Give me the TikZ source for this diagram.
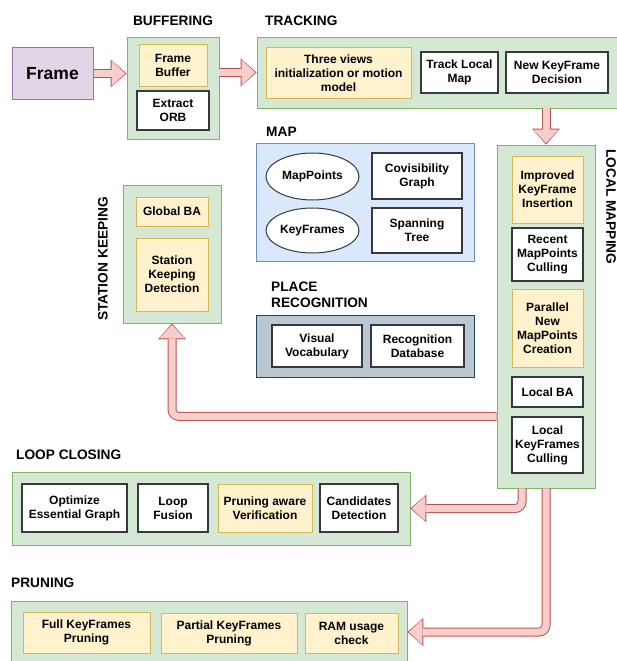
\documentclass[tikz,border=0pt]{standalone}
\usepackage{fontspec}
\setmainfont{Liberation Sans}
\usetikzlibrary{shapes.geometric,arrows.meta}
\definecolor{groupfill}{HTML}{D5E8D4}
\definecolor{groupline}{HTML}{82B366}
\definecolor{notefill}{HTML}{FFF2CC}
\definecolor{noteline}{HTML}{D6B656}
\definecolor{framefill}{HTML}{E1D5E7}
\definecolor{frameline}{HTML}{9673A6}
\definecolor{mapfill}{HTML}{DAE8FC}
\definecolor{mapline}{HTML}{6C8EBF}
\definecolor{placefill}{HTML}{BAC8D3}
\definecolor{placeline}{HTML}{23445D}
\definecolor{arrowfill}{HTML}{F8CECC}
\definecolor{arrowline}{HTML}{B85450}
\definecolor{boxline}{HTML}{36393D}

\newcommand{\boxfont}{\bfseries\fontsize{12}{14}\selectfont}
\newcommand{\headfont}{\bfseries\fontsize{13.7}{16}\selectfont}
\newcommand{\flowarrow}[1]{\draw[flowedge] #1; \draw[flowcore] #1;}

\tikzset{
  wh/.style 2 args={minimum width=#1pt, minimum height=#2pt},
  group/.style={draw=groupline, fill=groupfill, line width=0.8pt, inner sep=0pt},
  notebox/.style={draw=noteline, fill=notefill, line width=1pt, align=center, inner sep=1pt, font=\boxfont},
  plainbox/.style={draw=boxline, fill=white, line width=1.2pt, align=center, inner sep=1pt, font=\boxfont},
  heading/.style={font=\headfont, inner sep=0pt},
  flowedge/.style={draw=arrowline, line width=9pt, rounded corners=7pt,
    -{Triangle[length=16pt, width=28pt, line width=0pt]}},
  flowcore/.style={draw=arrowfill, line width=7pt, rounded corners=7pt, shorten >=1.4pt,
    -{Triangle[length=13.5pt, width=25pt, line width=0pt]}}
}

\begin{document}
\begin{tikzpicture}[x=1pt, y=-1pt]
  \useasboundingbox (0,0) rectangle (617,661);

  % Input frame
  \node[draw=frameline, fill=framefill, line width=1pt, wh={81}{51}, font=\bfseries\fontsize{17.5}{20}\selectfont] (frame) at (52.5,73.5) {Frame};

  % Buffering
  \node[heading] (buftitle) at (173,21) {BUFFERING};
  \node[group, wh={92}{102}] (buf) at (173,88) {};
  \node[notebox, wh={68}{41}] (fbuf) at (173,65.5) {Frame\\Buffer};
  \node[plainbox, wh={72}{39}] (orb) at (173,110.5) {Extract\\ORB};

  % Tracking
  \node[heading, anchor=west] (tracktitle) at (265,21) {TRACKING};
  \node[group, wh={365}{71}] (track) at (439.5,72.5) {};
  \node[notebox, wh={145}{50}] (init) at (338.5,73) {Three views\\initialization or motion\\model};
  \node[plainbox, wh={77}{41}] (tlm) at (459.5,72.5) {Track Local\\Map};
  \node[plainbox, wh={102}{41}] (nkd) at (557,72.5) {New KeyFrame\\Decision};

  % Map
  \node[heading, anchor=west] (maptitle) at (266,132) {MAP};
  \node[draw=mapline, fill=mapfill, line width=0.8pt, wh={218}{118}] (map) at (365,202) {};
  \node[ellipse, draw=boxline, fill=white, line width=1pt, wh={93}{47}, inner sep=0pt, font=\boxfont] (mpts) at (312.5,176.5) {MapPoints};
  \node[ellipse, draw=boxline, fill=white, line width=1pt, wh={93}{45}, inner sep=0pt, font=\boxfont] (kfs) at (312.5,230.5) {KeyFrames};
  \node[plainbox, wh={90}{46}] (covis) at (417,176) {Covisibility\\Graph};
  \node[plainbox, wh={90}{45}] (span) at (417,230.5) {Spanning\\Tree};

  % Place recognition
  \node[heading, anchor=west, align=left] (placetitle) at (271,295) {PLACE\\RECOGNITION};
  \node[draw=placeline, fill=placefill, line width=0.8pt, wh={218}{62}] (place) at (365,346) {};
  \node[plainbox, wh={90}{42}] (vocab) at (317,346) {Visual\\Vocabulary};
  \node[plainbox, wh={93}{42}] (recdb) at (417.5,346) {Recognition\\Database};

  % Station keeping
  \node[heading, rotate=90] (sktitle) at (103,259) {STATION KEEPING};
  \node[group, wh={98}{138}] (sk) at (172,254) {};
  \node[notebox, wh={72}{29}] (gba) at (172,211.5) {Global BA};
  \node[notebox, wh={72}{73}] (skd) at (172,274.5) {Station\\Keeping\\Detection};

  % Local mapping
  \node[heading, rotate=-90] (lmtitle) at (611,207) {LOCAL MAPPING};
  \node[group, wh={98}{343}] (lmap) at (546,316.5) {};
  \node[notebox, wh={71}{67}] (ikf) at (547.5,189.5) {Improved\\KeyFrame\\Insertion};
  \node[plainbox, wh={71}{53}] (rmc) at (547.5,254.5) {Recent\\MapPoints\\Culling};
  \node[notebox, wh={71}{78}] (pnmc) at (547.5,328) {Parallel\\New\\MapPoints\\Creation};
  \node[plainbox, wh={71}{30}] (lba) at (547.5,392) {Local BA};
  \node[plainbox, wh={71}{56}] (lkf) at (547.5,445) {Local\\KeyFrames\\Culling};

  % Loop closing
  \node[heading, anchor=west] (looptitle) at (16,455) {LOOP CLOSING};
  \node[group, wh={398}{73}] (loop) at (211,508.5) {};
  \node[plainbox, wh={105}{48}] (oeg) at (74.5,508) {Optimize\\Essential Graph};
  \node[plainbox, wh={70}{48}] (fusion) at (173,508) {Loop\\Fusion};
  \node[notebox, wh={94}{48}] (verif) at (265,508) {Pruning aware\\Verification};
  \node[plainbox, wh={78}{48}] (cand) at (359,508) {Candidates\\Detection};

  % Pruning
  \node[heading, anchor=west] (pruntitle) at (11,583) {PRUNING};
  \node[group, wh={396}{62}] (prun) at (209,632) {};
  \node[notebox, wh={127}{41}] (fkp) at (86.5,632.5) {Full KeyFrames\\Pruning};
  \node[notebox, wh={136}{40}] (pkp) at (229,633) {Partial KeyFrames\\Pruning};
  \node[notebox, wh={93}{40}] (ram) at (351.5,633) {RAM usage\\check};

  % Flow arrows
  \flowarrow{(frame.east) -- (frame.east -| buf.west)}
  \flowarrow{(buf.east |- track.west) -- (track.west)}
  \flowarrow{(track.south -| lmap.north) -- (lmap.north)}
  \flowarrow{(lmap.west |- lkf.north) -| (sk.south)}
  \flowarrow{([xshift=-24pt]lmap.south) |- (loop.east)}
  \flowarrow{(lmap.south) |- (prun.east)}
\end{tikzpicture}
\end{document}
